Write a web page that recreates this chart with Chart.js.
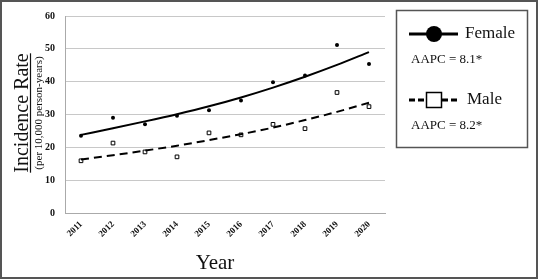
<!DOCTYPE html>
<html>
<head>
<meta charset="utf-8">
<script src="https://cdn.jsdelivr.net/npm/chart.js@4/dist/chart.umd.min.js"></script>
<style>
  html, body { margin: 0; padding: 0; background: #fff; }
  #wrap { position: relative; width: 538px; height: 279px; }
</style>
</head>
<body>
<div id="wrap"><canvas id="chart" width="538" height="279"></canvas></div>
<script>
var years = ["2011", "2012", "2013", "2014", "2015", "2016", "2017", "2018", "2019", "2020"];

// observed rates (per 10,000 person-years)
var femaleRates = [23.5, 29.0, 27.0, 29.6, 31.3, 34.3, 39.8, 41.9, 51.2, 45.4];
var maleRates   = [15.9, 21.3, 18.6, 17.1, 24.4, 23.8, 27.0, 25.7, 36.7, 32.4];

// fitted trend
var femaleFit = [23.8, 25.8, 27.9, 30.1, 32.5, 35.2, 38.2, 41.5, 45.1, 49.0];
var maleFit   = [16.3, 17.6, 19.0, 20.5, 22.2, 24.0, 26.0, 28.3, 30.8, 33.6];

var yTicks = [0, 10, 20, 30, 40, 50, 60];

var femaleLabel = "Female";
var maleLabel = "Male";
var femaleAAPC = "AAPC = 8.1*";
var maleAAPC = "AAPC = 8.2*";

var serif = "'Liberation Serif', 'Times New Roman', serif";

// custom titles, legend box and outer frame
var decor = {
    id: 'decor',
    afterDraw: function(chart)
    {
        var ctx = chart.ctx;
        ctx.save();

        // y axis title
        ctx.fillStyle = '#111';
        ctx.strokeStyle = '#111';
        ctx.translate(22, 113);
        ctx.rotate(-Math.PI / 2);
        ctx.font = "20px " + serif;
        ctx.textAlign = 'center';
        ctx.textBaseline = 'alphabetic';
        ctx.fillText("Incidence Rate", 0, 6);
        var w = ctx.measureText("Incidence Rate").width;
        ctx.lineWidth = 1.2;
        ctx.beginPath();
        ctx.moveTo(-w / 2, 8.5);
        ctx.lineTo(w / 2, 8.5);
        ctx.stroke();
        ctx.font = "11px " + serif;
        ctx.fillText("(per 10,000 person-years)", 0, 20);
        ctx.restore();

        // x axis title
        ctx.save();
        ctx.fillStyle = '#111';
        ctx.font = "21px " + serif;
        ctx.textAlign = 'center';
        ctx.textBaseline = 'middle';
        ctx.fillText("Year", 215, 263);
        ctx.restore();

        // legend box
        ctx.save();
        ctx.strokeStyle = '#555';
        ctx.lineWidth = 1.5;
        ctx.strokeRect(396.5, 10.5, 131, 137);

        ctx.strokeStyle = '#000';
        ctx.fillStyle = '#000';
        ctx.lineWidth = 3;
        ctx.beginPath();
        ctx.moveTo(409, 34);
        ctx.lineTo(458, 34);
        ctx.stroke();
        ctx.beginPath();
        ctx.arc(434, 34, 8, 0, Math.PI * 2);
        ctx.fill();

        ctx.setLineDash([6, 3]);
        ctx.beginPath();
        ctx.moveTo(409, 100);
        ctx.lineTo(426, 100);
        ctx.moveTo(442, 100);
        ctx.lineTo(460, 100);
        ctx.stroke();
        ctx.setLineDash([]);
        ctx.lineWidth = 1.5;
        ctx.fillStyle = '#fff';
        ctx.fillRect(426.5, 92.5, 15, 15);
        ctx.strokeRect(426.5, 92.5, 15, 15);

        ctx.fillStyle = '#111';
        ctx.textBaseline = 'middle';
        ctx.textAlign = 'left';
        ctx.font = "17px " + serif;
        ctx.fillText(femaleLabel, 465, 34);
        ctx.fillText(maleLabel, 467, 100);
        ctx.font = "13px " + serif;
        ctx.fillText(femaleAAPC, 411, 60);
        ctx.fillText(maleAAPC, 411, 126);

        // outer frame
        ctx.strokeStyle = '#555';
        ctx.lineWidth = 2;
        ctx.strokeRect(1, 1, 536, 277);
        ctx.restore();
    }
};

var ctx = document.getElementById('chart').getContext('2d');

new Chart(ctx, {
    type: 'line',
    data: {
        labels: years,
        datasets: [
            {
                label: femaleLabel + " fit",
                data: femaleFit,
                borderColor: '#000',
                borderWidth: 2,
                pointRadius: 0,
                cubicInterpolationMode: 'monotone',
                fill: false
            },
            {
                label: maleLabel + " fit",
                data: maleFit,
                borderColor: '#000',
                borderWidth: 2,
                borderDash: [8, 5],
                pointRadius: 0,
                cubicInterpolationMode: 'monotone',
                fill: false
            },
            {
                label: femaleLabel,
                data: femaleRates,
                showLine: false,
                pointStyle: 'circle',
                pointRadius: 2,
                pointBackgroundColor: '#000',
                pointBorderColor: '#000',
                pointBorderWidth: 0
            },
            {
                label: maleLabel,
                data: maleRates,
                showLine: false,
                pointStyle: 'rect',
                pointRadius: 2.6,
                pointBackgroundColor: '#fff',
                pointBorderColor: '#000',
                pointBorderWidth: 1
            }
        ]
    },
    options: {
        responsive: false,
        animation: false,
        devicePixelRatio: 1,
        layout: { padding: { left: 0, right: 153, top: 12, bottom: 0 } },
        plugins: {
            legend: { display: false },
            tooltip: { enabled: false }
        },
        scales: {
            x: {
                offset: true,
                grid: { display: false, drawTicks: false },
                border: { color: '#aaa', width: 1 },
                ticks: {
                    minRotation: 45,
                    maxRotation: 45,
                    padding: 6,
                    color: '#111',
                    font: { family: serif, size: 9, weight: 'bold' }
                },
                afterFit: function(scale) { scale.height = 66; }
            },
            y: {
                min: 0,
                max: 60,
                afterBuildTicks: function(scale) {
                    scale.ticks = yTicks.map(function(v) { return { value: v }; });
                },
                grid: { color: '#c8c8c8', lineWidth: 1, drawTicks: false },
                border: { color: '#aaa', width: 1 },
                ticks: {
                    padding: 10,
                    color: '#111',
                    font: { family: serif, size: 10, weight: 'bold' }
                },
                afterFit: function(scale) { scale.width = 65; }
            }
        }
    },
    plugins: [decor]
});
</script>
</body>
</html>
